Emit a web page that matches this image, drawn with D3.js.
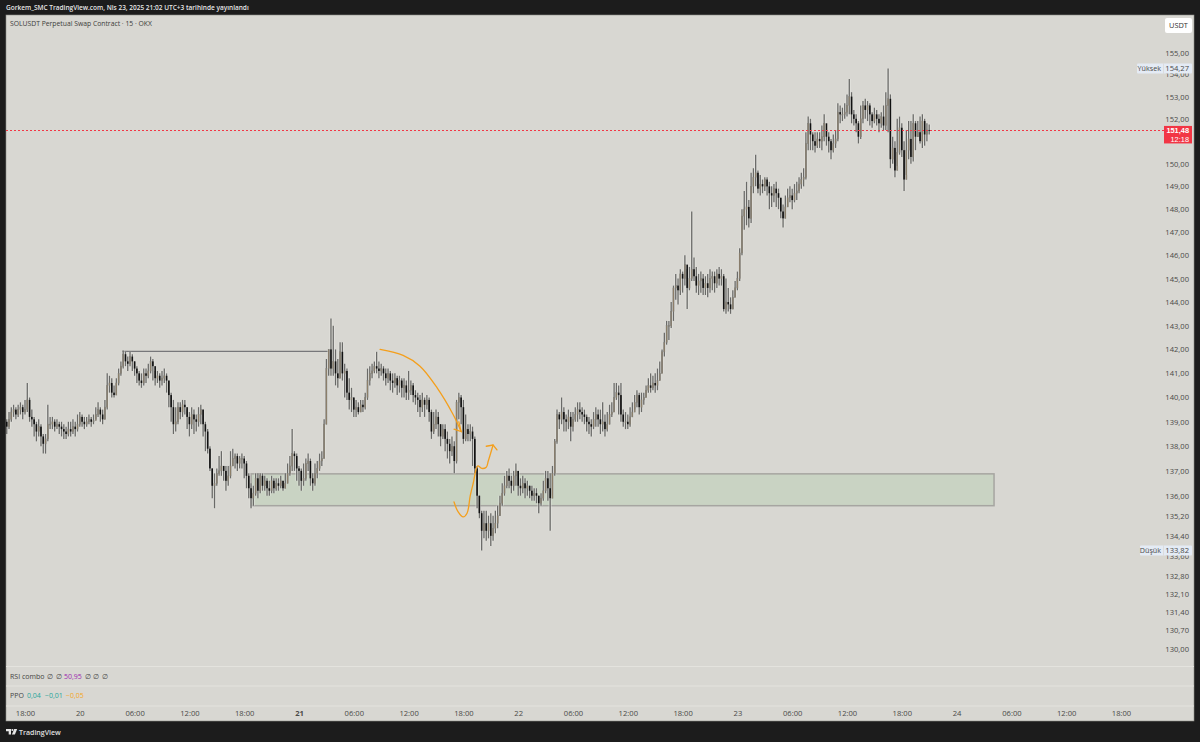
<!DOCTYPE html>
<html>
<head>
<meta charset="utf-8">
<script src="https://cdn.jsdelivr.net/npm/d3@7"></script>
<style>
  html, body { margin: 0; padding: 0; background: #1c1c1c; }
  svg { display: block; }
  text { font-family: "Open Sans", "Noto Sans", sans-serif; }
</style>
</head>
<body>
<svg id="chart" width="1200" height="742"></svg>
<script>
// 15 minute bars, first bar 19 Apr 15:45 UTC+3, one row is 20 bars (5 hours).
// The open of a bar is the close of the one before it.
const closes = [
  139.0,138.8,139.1,139.4,139.5,139.3,139.5,139.6,139.4,139.5,139.9,139.2,139.1,138.9,138.6,138.8,138.4,138.1,138.3,138.9,
  138.9,139.0,138.8,138.9,138.8,138.7,138.6,138.5,138.7,138.6,138.8,138.7,138.9,139.2,139.0,138.9,139.0,139.1,139.0,139.05,
  139.3,139.5,139.3,139.1,139.6,140.5,140.6,140.2,140.1,140.6,141.0,141.3,141.8,141.5,141.4,141.7,141.5,141.2,141.0,140.7,
  140.6,141.0,140.9,141.1,141.5,141.3,140.8,140.9,140.7,140.8,140.9,140.7,140.1,139.6,138.9,139.0,139.6,139.4,139.7,139.6,
  139.2,138.9,139.3,139.1,139.0,139.3,139.5,138.9,138.6,137.9,137.1,136.4,136.5,136.9,137.0,137.2,137.0,136.6,136.8,137.2,
  137.5,137.6,137.3,137.5,137.5,137.3,136.8,136.3,135.9,136.1,136.7,136.2,136.8,136.4,136.6,136.3,136.2,136.6,136.3,136.5,
  136.4,136.6,136.3,136.5,136.9,137.2,137.7,137.6,137.1,137.0,136.6,136.7,137.3,137.4,136.7,136.5,136.9,137.1,137.4,137.5,
  138.9,141.2,142.0,141.2,141.5,141.0,140.8,141.9,141.0,141.1,140.2,139.9,140.0,139.5,139.6,139.4,139.7,139.6,140.0,140.7,
  141.0,141.1,141.3,141.2,141.1,141.2,141.0,140.8,141.0,140.7,140.6,140.8,140.5,140.7,140.4,140.5,140.2,140.3,140.5,140.1,
  140.0,139.9,139.6,139.9,139.7,139.9,139.4,138.6,138.9,139.2,138.9,138.4,138.7,138.3,138.1,137.8,138.0,137.4,139.8,140.0,
  139.6,138.3,138.7,138.5,138.6,138.3,137.1,136.0,135.3,134.6,134.9,134.6,134.9,134.4,134.7,134.9,135.2,135.7,136.1,136.4,
  136.8,136.6,136.4,136.8,137.0,136.4,136.3,136.5,136.3,136.4,136.2,136.0,136.1,136.0,135.7,135.9,136.2,136.7,136.3,135.9,
  136.9,138.2,139.3,139.1,139.4,139.1,139.0,139.2,138.8,139.1,139.3,139.5,139.4,139.3,139.2,139.0,138.9,138.8,139.1,139.3,
  139.1,138.9,139.0,138.7,138.9,139.3,139.4,140.0,140.2,140.1,139.3,139.0,139.0,138.9,139.2,139.4,139.8,140.1,139.6,139.9,
  140.0,140.3,140.5,140.4,140.6,140.5,140.7,141.0,141.9,142.3,143.0,143.0,143.6,144.6,144.7,144.5,145.2,145.0,145.6,144.6,
  145.0,145.4,145.1,144.7,144.9,145.0,144.6,144.8,144.6,145.0,145.1,144.8,145.2,145.0,145.1,143.7,144.0,143.9,143.7,144.2,
  144.6,145.0,146.1,147.7,148.0,148.1,147.6,149.0,149.4,149.6,148.9,149.1,149.0,149.3,149.0,148.7,148.6,148.9,148.7,148.5,
  147.9,147.6,148.1,148.5,148.6,148.4,148.7,148.8,149.1,149.3,149.4,150.9,151.8,151.3,151.0,150.8,151.1,151.0,151.2,151.8,
  151.2,151.0,150.6,150.9,151.1,152.3,152.2,152.2,152.3,152.6,153.0,152.2,152.0,151.8,151.2,152.0,152.6,152.4,152.6,152.2,
  151.9,152.2,152.0,151.8,152.1,151.7,152.6,152.9,150.2,150.7,149.7,150.5,151.6,150.6,149.3,150.6,151.1,150.3,151.8,151.2,
  151.4,151.0,151.9,151.3,151.5,151.48
];
const highs = [
  139.2,139.1,139.4,139.6,139.7,139.6,139.7,139.8,139.7,139.9,140.6,140.0,139.5,139.2,139.0,139.1,138.9,138.5,138.5,139.7,
  139.2,139.2,139.1,139.1,139.0,139.0,138.9,138.8,139.0,139.0,139.1,139.0,139.3,139.4,139.3,139.2,139.2,139.3,139.2,139.3,
  139.6,139.8,139.6,139.5,139.9,141.0,140.9,140.8,140.5,140.8,141.2,141.5,141.95,141.9,141.7,141.9,141.8,141.5,141.3,141.1,
  141.0,141.2,141.2,141.4,141.7,141.6,141.1,141.1,141.0,141.1,141.2,141.0,140.7,140.2,139.9,139.6,139.8,139.8,139.9,139.9,
  139.5,139.4,139.6,139.5,139.3,139.6,139.7,139.5,139.0,138.7,138.0,137.1,136.9,137.1,137.6,137.8,137.2,137.2,137.2,137.8,
  137.9,137.7,137.7,137.6,137.7,137.6,137.4,136.9,136.5,136.4,136.9,136.9,136.9,136.9,136.8,136.7,136.6,136.8,136.7,136.7,
  136.7,136.8,136.6,136.9,137.3,137.6,138.7,137.8,137.7,137.2,137.1,137.3,137.5,137.7,137.5,136.9,137.3,137.4,137.7,137.8,
  139.1,141.6,142.0,143.3,143.0,142.0,141.6,142.3,142.3,141.4,141.2,140.8,140.4,140.0,139.9,139.8,139.9,139.9,140.2,141.2,
  141.3,141.4,141.5,141.9,141.5,141.4,141.3,141.2,141.2,141.1,141.0,141.0,140.9,140.9,140.8,140.8,140.7,141.1,140.7,140.6,
  140.3,140.2,140.1,140.2,140.0,140.1,140.0,139.5,139.4,139.5,139.4,138.9,138.9,138.9,138.6,138.3,138.4,138.2,139.9,140.2,
  140.1,139.9,139.3,138.9,138.9,138.8,138.4,137.2,136.0,135.4,135.4,135.4,135.2,135.3,135.2,135.4,135.6,136.0,136.5,136.8,
  137.0,137.1,136.8,137.0,137.3,137.0,136.7,136.8,136.7,136.6,136.4,136.4,136.3,136.3,136.0,136.1,136.6,137.0,137.0,136.9,
  137.2,138.3,139.5,139.4,140.0,139.6,139.3,139.5,139.4,139.4,139.6,139.8,139.8,139.6,139.5,139.3,139.2,139.1,139.4,139.6,
  139.5,139.5,139.8,139.3,139.4,139.7,139.8,140.6,140.6,140.5,140.6,139.5,139.4,139.3,139.6,139.8,140.1,140.3,140.2,140.2,
  140.2,140.5,140.8,141.0,140.9,141.0,141.2,141.5,142.0,142.7,143.2,143.2,144.0,144.7,145.2,145.0,145.4,145.3,146.0,145.4,
  145.5,147.9,145.9,145.5,145.2,145.3,145.2,145.1,145.2,145.4,145.3,145.3,145.4,145.5,145.4,145.2,145.0,144.6,144.2,144.5,
  144.9,145.3,146.3,148.0,148.8,149.2,148.4,149.6,149.8,150.4,149.7,149.5,149.3,149.4,149.4,149.2,149.0,149.1,149.2,148.9,
  148.5,148.2,148.6,148.9,149.0,148.9,149.1,149.2,149.4,149.6,149.8,151.4,152.1,152.0,151.4,151.4,151.4,151.4,151.7,152.2,
  151.5,151.4,151.1,151.3,151.5,152.7,152.6,152.5,152.7,153.1,153.8,153.2,152.4,152.2,151.9,152.6,152.8,152.9,152.8,152.7,
  152.3,152.5,152.4,152.2,152.3,152.6,153.2,154.27,153.1,151.2,151.0,152.0,152.1,151.8,151.0,151.5,151.9,151.9,152.2,151.9,
  151.9,152.1,152.2,152.0,151.8,151.75
];
const lows = [
  138.6,138.5,138.7,139.0,139.2,139.1,139.2,139.3,139.1,139.3,139.4,139.0,138.8,138.4,138.2,138.4,138.0,137.7,137.7,138.2,
  138.7,138.7,138.6,138.7,138.5,138.4,138.3,138.3,138.4,138.4,138.5,138.4,138.6,138.8,138.8,138.7,138.8,138.9,138.8,138.9,
  139.1,139.2,139.0,138.9,139.1,139.5,140.2,140.0,140.0,140.1,140.5,140.9,141.2,141.3,141.1,141.3,141.1,140.9,140.6,140.5,
  140.4,140.5,140.6,140.8,141.0,140.7,140.5,140.6,140.4,140.5,140.6,140.2,139.6,139.0,138.5,138.6,138.9,139.1,139.2,139.3,
  138.7,138.4,138.7,138.5,138.6,138.8,138.9,138.4,137.8,137.7,137.0,135.9,135.5,136.4,136.8,136.8,136.6,136.2,136.4,136.7,
  137.2,137.1,137.0,137.1,137.1,136.7,136.3,135.9,135.5,135.6,136.0,135.9,136.1,136.2,136.2,136.0,136.0,136.1,136.1,136.2,
  136.2,136.3,136.2,136.3,136.5,136.8,137.0,137.0,136.6,136.4,136.2,136.4,136.6,137.0,136.4,136.2,136.4,136.7,137.0,137.2,
  137.5,138.9,140.9,140.9,140.9,140.5,140.4,140.8,140.7,140.0,139.9,139.5,139.4,139.2,139.2,139.3,139.4,139.4,139.5,139.9,
  140.5,140.8,141.0,141.0,140.8,140.9,140.7,140.5,140.6,140.3,140.2,140.4,140.1,140.2,140.0,140.0,139.9,139.9,140.1,139.8,
  139.7,139.4,139.2,139.4,139.2,139.5,139.0,138.3,138.5,138.7,138.4,138.0,138.3,137.8,137.5,137.3,137.6,136.9,137.3,139.1,
  138.9,138.1,138.2,138.2,138.2,137.2,136.9,135.5,135.1,133.82,134.3,134.2,134.3,134.0,134.2,134.5,134.7,135.2,135.6,136.0,
  136.3,136.3,136.1,136.2,136.4,136.0,136.0,136.1,135.9,136.0,135.9,135.8,135.8,135.7,135.3,135.6,135.8,136.1,135.8,134.6,
  136.0,136.8,138.1,138.7,138.9,138.6,138.6,138.7,138.2,138.6,139.0,139.0,139.1,139.0,138.9,138.6,138.5,138.4,138.7,138.8,
  138.8,138.5,138.6,138.4,138.6,138.9,139.2,139.4,139.9,139.3,139.0,138.8,138.7,138.7,138.8,139.2,139.5,139.6,139.3,139.4,
  139.7,140.0,140.2,140.2,140.3,140.2,140.3,140.7,141.0,141.7,142.2,142.4,142.9,143.2,144.1,143.9,144.3,144.4,144.7,143.7,
  144.5,144.9,144.9,144.4,144.3,144.4,144.3,144.3,144.2,144.4,144.5,144.4,144.6,144.7,144.7,143.6,143.5,143.6,143.5,143.7,
  144.2,144.5,144.9,146.0,147.1,147.3,147.2,147.4,148.7,149.0,148.7,148.6,148.7,148.8,148.6,148.0,148.1,148.3,148.1,148.0,
  147.6,147.2,147.6,148.1,148.3,148.0,148.3,148.4,148.7,148.9,149.0,149.3,150.6,150.6,150.6,150.5,150.7,150.7,150.6,151.0,
  150.8,150.5,150.2,150.5,150.7,151.0,151.8,151.9,152.0,152.1,152.2,151.8,151.7,151.4,150.9,151.1,151.8,152.0,151.9,151.7,
  151.6,151.8,151.7,151.4,151.6,151.5,151.5,151.4,149.8,150.0,149.4,149.9,150.4,150.3,148.8,149.5,150.2,150.0,150.1,150.6,
  151.2,150.9,150.7,150.8,151.0,151.3
];

const priceTicks = [155,154,153,152,150,149,148,147,146,145,144,143,142,141,140,139,138,137,136,135.2,134.4,133.6,132.8,132.1,131.4,130.7,130];

const timeTicks = [[19,18],[20,0],[20,6],[20,12],[20,18],[21,0],[21,6],[21,12],[21,18],[22,0],[22,6],[22,12],[22,18],[23,0],[23,6],[23,12],[23,18],[24,0],[24,6],[24,12],[24,18]];
const timeLabels = ['18:00','20','06:00','12:00','18:00','21','06:00','12:00','18:00','22','06:00','12:00','18:00','23','06:00','12:00','18:00','24','06:00','12:00','18:00'];

const lastPrice = 151.48, highPrice = 154.27, lowPrice = 133.82;

// drawings, as [bar index, price]
const zoneBars = [108, 433.4], zonePrices = [136.88, 135.6];
const levelBars = [51.5, 142], levelPrice = 141.92;
const arrowOne = [[164.5,142.0],[174.6,141.75],[182,141.3],[189.5,140.4],[196.5,139.3],[200,138.6]];
const arrowOneHead = [[196.9,138.7],[200,138.6],[199,139.0]];
const arrowTwo = [[196.9,135.75],[198.7,135.35],[200.9,135.15],[202.6,135.3],[204,136.0],[205.3,136.5],[207.3,137.2],[209,137.1],[211,137.15],[211.9,137.4],[214,138.05]];
const arrowTwoHead = [[211,138.0],[214,138.05],[215.7,137.85]];

const BAR_MS = 15 * 60 * 1000;
const startTime = Date.UTC(2025, 3, 19, 15, 45);
const toTime = i => new Date(startTime + i * BAR_MS);

const x = d3.scaleUtc()
  .domain([new Date(Date.UTC(2025, 3, 19, 18)), new Date(Date.UTC(2025, 3, 24, 18))])
  .range([25, 1121]);
const y = d3.scaleLog().domain([130, 155]).range([648.6, 52.6]);
const xBar = i => x(toTime(i));
const comma = v => d3.format('.2f')(v).replace('.', ',');

const svg = d3.select('#chart');
const BG = '#d8d7d2', INK = '#4a4a48';
const AXIS_SIZE = 7.6;

svg.append('rect').attr('width', 1200).attr('height', 742).attr('fill', '#1c1c1c');
svg.append('rect').attr('x', 6).attr('y', 15).attr('width', 1188).attr('height', 706)
  .attr('fill', BG).attr('stroke', '#8c8c88').attr('stroke-width', 0.6);

svg.append('clipPath').attr('id', 'pane').append('rect')
  .attr('x', 6).attr('y', 15).attr('width', 1188).attr('height', 651);
const pane = svg.append('g').attr('clip-path', 'url(#pane)');

// pane separators
svg.append('g').selectAll('line').data([666.5, 686, 706]).join('line')
  .attr('x1', 6).attr('x2', 1194).attr('y1', d => d).attr('y2', d => d)
  .attr('stroke', '#e4e3de').attr('stroke-width', 1);

// demand zone
pane.append('rect')
  .attr('x', xBar(zoneBars[0])).attr('width', xBar(zoneBars[1]) - xBar(zoneBars[0]))
  .attr('y', y(zonePrices[0])).attr('height', y(zonePrices[1]) - y(zonePrices[0]))
  .attr('fill', '#c9d3c3').attr('stroke', '#a6a5a1').attr('stroke-width', 1.5);

// previous high
pane.append('line')
  .attr('x1', xBar(levelBars[0])).attr('x2', xBar(levelBars[1]))
  .attr('y1', y(levelPrice)).attr('y2', y(levelPrice))
  .attr('stroke', '#77777a').attr('stroke-width', 1.2);

const bars = closes.map((c, i) => ({
  i, c, h: highs[i], l: lows[i], o: i ? closes[i - 1] : c
}));

// soft light edge round the wicks
pane.append('g').selectAll('line').data(bars).join('line')
  .attr('x1', d => xBar(d.i)).attr('x2', d => xBar(d.i))
  .attr('y1', d => y(d.h)).attr('y2', d => y(d.l))
  .attr('stroke', '#eeede9').attr('stroke-opacity', 0.45).attr('stroke-width', 3.2);

pane.append('g').selectAll('line').data(bars).join('line')
  .attr('x1', d => xBar(d.i)).attr('x2', d => xBar(d.i))
  .attr('y1', d => y(d.h)).attr('y2', d => y(d.l))
  .attr('stroke', '#6a6a68').attr('stroke-width', 1.3);

pane.append('g').selectAll('rect').data(bars).join('rect')
  .attr('x', d => xBar(d.i) - (d.c >= d.o ? 0.5 : 0.8))
  .attr('width', d => d.c >= d.o ? 1 : 1.6)
  .attr('y', d => y(Math.max(d.o, d.c)))
  .attr('height', d => Math.max(0.8, Math.abs(y(d.o) - y(d.c))))
  .attr('fill', d => d.c >= d.o ? '#a08358' : '#111')
  .attr('stroke', d => d.c >= d.o ? '#7d7d7a' : 'none')
  .attr('stroke-width', 0.6);

// hand drawn arrows
const curve = d3.line().x(d => xBar(d[0])).y(d => y(d[1])).curve(d3.curveCatmullRom);
const straight = d3.line().x(d => xBar(d[0])).y(d => y(d[1]));
const arrows = pane.append('g').attr('fill', 'none').attr('stroke', '#f49f1c')
  .attr('stroke-width', 1.3).attr('stroke-linecap', 'round');
arrows.append('path').attr('d', curve(arrowOne));
arrows.append('path').attr('d', straight(arrowOneHead));
arrows.append('path').attr('d', curve(arrowTwo));
arrows.append('path').attr('d', straight(arrowTwoHead));

// last price line
pane.append('line').attr('x1', 6).attr('x2', 1164).attr('y1', y(lastPrice)).attr('y2', y(lastPrice))
  .attr('stroke', '#f23645').attr('stroke-width', 1.1).attr('stroke-dasharray', '2 2');

// price axis
const yAxis = svg.append('g').attr('transform', 'translate(1189,0)')
  .call(d3.axisLeft(y).tickValues(priceTicks).tickSize(0).tickPadding(0).tickFormat(comma));
yAxis.select('.domain').remove();
yAxis.selectAll('text').attr('fill', INK).attr('font-size', AXIS_SIZE)
  .style('font-family', '"Open Sans", sans-serif');

// time axis
const xAxis = svg.append('g').attr('transform', 'translate(0,710.5)')
  .call(d3.axisBottom(x)
    .tickValues(timeTicks.map(t => new Date(Date.UTC(2025, 3, t[0], t[1]))))
    .tickSize(0).tickPadding(0)
    .tickFormat((d, i) => timeLabels[i]));
xAxis.select('.domain').remove();
xAxis.selectAll('text').attr('fill', INK).attr('font-size', AXIS_SIZE)
  .attr('font-weight', (d, i) => timeLabels[i] === '21' ? 700 : 400)
  .style('font-family', '"Open Sans", sans-serif');

// high, low and last labels on the axis
function markerLabel(price, word, left) {
  const cy = y(price);
  const g = svg.append('g');
  g.append('rect').attr('x', left).attr('width', 1192 - left)
    .attr('y', cy - 5).attr('height', 10).attr('rx', 1).attr('fill', '#e4ebf5');
  g.append('line').attr('x1', 1163.5).attr('x2', 1163.5).attr('y1', cy - 5).attr('y2', cy + 5)
    .attr('stroke', BG).attr('stroke-width', 0.7);
  g.append('text').attr('x', 1161).attr('y', cy + 2.6).attr('text-anchor', 'end')
    .attr('font-size', 7.2).attr('fill', INK).text(word);
  g.append('text').attr('x', 1189).attr('y', cy + 2.6).attr('text-anchor', 'end')
    .attr('font-size', AXIS_SIZE).attr('fill', INK).text(comma(price));
}
markerLabel(highPrice, 'Yüksek', 1137);
markerLabel(lowPrice, 'Düşük', 1140);

svg.append('rect').attr('x', 1164).attr('y', y(lastPrice) - 4.5).attr('width', 28).attr('height', 17.5)
  .attr('fill', '#f23645');
svg.append('text').attr('x', 1189).attr('y', y(lastPrice) + 2.8).attr('text-anchor', 'end')
  .attr('font-size', 7.4).attr('font-weight', 700).attr('fill', '#fff')
  .style('font-family', '"Liberation Sans", sans-serif').text(comma(lastPrice));
svg.append('text').attr('x', 1189).attr('y', y(lastPrice) + 11.6).attr('text-anchor', 'end')
  .attr('font-size', 7.4).attr('fill', '#fff')
  .style('font-family', '"Liberation Sans", sans-serif').text('12:18');

// currency button
svg.append('rect').attr('x', 1165).attr('y', 18).attr('width', 27).attr('height', 15).attr('rx', 2).attr('fill', '#fff');
svg.append('text').attr('x', 1178.5).attr('y', 28.3).attr('text-anchor', 'middle')
  .attr('font-size', 7.4).attr('fill', '#333').text('USDT');

// header and legends
svg.append('text').attr('x', 6).attr('y', 10).attr('font-size', 6.5).attr('font-weight', 600)
  .attr('fill', '#e6e6e6').text('Gorkem_SMC TradingView.com, Nis 23, 2025 21:02 UTC+3 tarihinde yayınlandı');
svg.append('text').attr('x', 10).attr('y', 26).attr('font-size', 6.8).attr('fill', '#3c3c3a')
  .text('SOLUSDT Perpetual Swap Contract · 15 · OKX');

const rsiLegend = svg.append('text').attr('x', 10).attr('y', 678.5).attr('font-size', 7).attr('fill', '#444');
rsiLegend.append('tspan').text('RSI combo');
rsiLegend.append('tspan').attr('x', 47).text('∅');
rsiLegend.append('tspan').attr('x', 56).text('∅');
rsiLegend.append('tspan').attr('x', 64).attr('fill', '#9c27b0').text('50,95');
rsiLegend.append('tspan').attr('x', 85).text('∅');
rsiLegend.append('tspan').attr('x', 93).text('∅');
rsiLegend.append('tspan').attr('x', 102).text('∅');

const ppoLegend = svg.append('text').attr('x', 10).attr('y', 698).attr('font-size', 7).attr('fill', '#444');
ppoLegend.append('tspan').text('PPO');
ppoLegend.append('tspan').attr('x', 27).attr('fill', '#26a69a').text('0,04');
ppoLegend.append('tspan').attr('x', 45).attr('fill', '#26a69a').text('−0,01');
ppoLegend.append('tspan').attr('x', 66).attr('fill', '#f5a623').text('−0,05');

// footer logo
const logo = svg.append('g').attr('fill', '#e6e6e6');
logo.append('path').attr('d', 'M6 729h5v5.6h-2.3v-3.4H6z');
logo.append('circle').attr('cx', 12.4).attr('cy', 730).attr('r', 1);
logo.append('path').attr('d', 'M14.2 729h3l-2.3 5.6h-3z');
svg.append('text').attr('x', 19).attr('y', 734.5).attr('font-size', 7).attr('font-weight', 600)
  .attr('fill', '#e0e0e0').text('TradingView');
</script>
</body>
</html>
